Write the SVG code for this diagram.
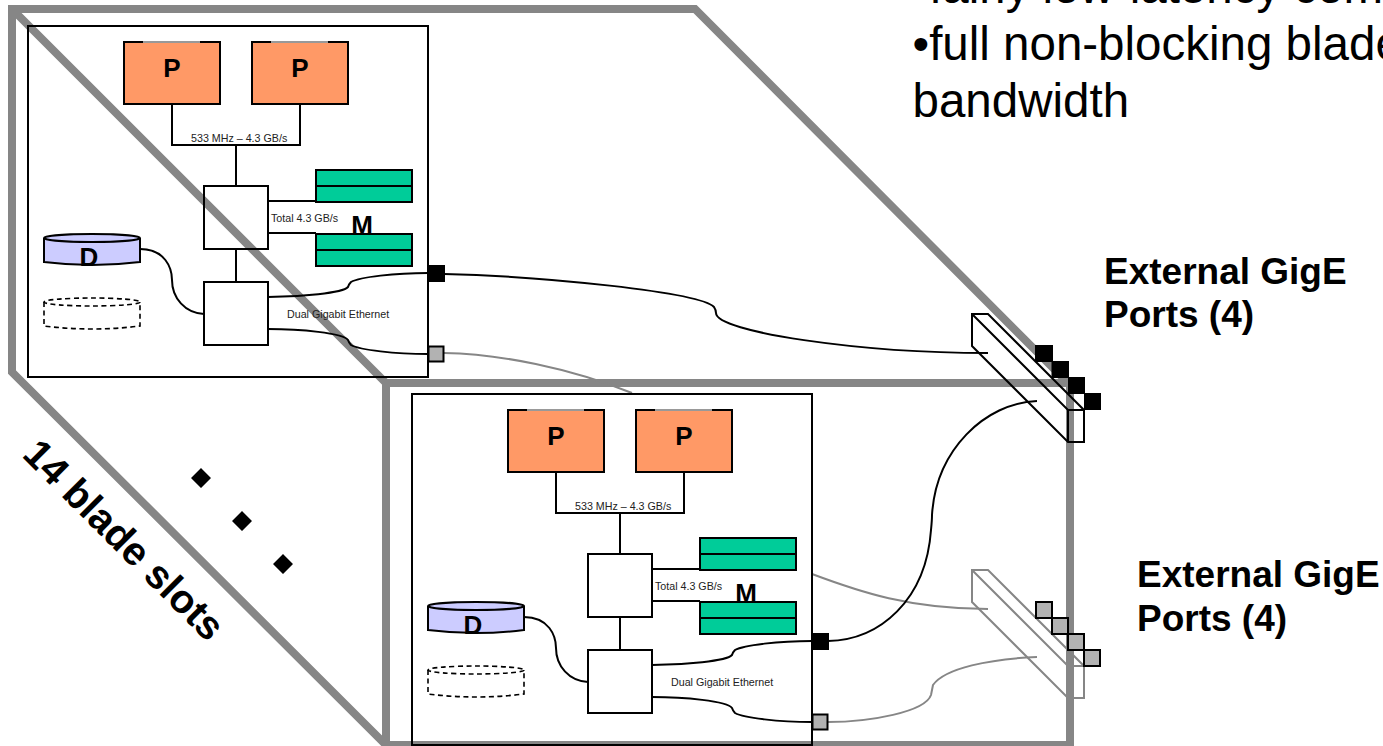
<svg xmlns="http://www.w3.org/2000/svg" width="1383" height="746" viewBox="0 0 1383 746">
<style>
text{font-family:"Liberation Sans",Arial,sans-serif;fill:#000}
.frame{fill:none;stroke:#868686;stroke-width:8}
.k{fill:none;stroke:#000;stroke-width:2}
.g{fill:none;stroke:#868686;stroke-width:2}
.cpu{fill:#ff9966;stroke:#000;stroke-width:2}
.lid{stroke:#999;stroke-width:2;fill:none}
.mem{fill:#00cc99;stroke:#000;stroke-width:2}
.disk{fill:#ccccff;stroke:#000;stroke-width:2}
.ghost{fill:none;stroke:#000;stroke-width:1.6;stroke-dasharray:5 3.5}
.big{font-size:26px;font-weight:700;text-anchor:middle}
.sm{font-size:10.7px;fill:#222}
.lab{font-size:37px;font-weight:700}
.slots{font-size:40px;font-weight:700}
.body{font-size:47.5px}
.pb{fill:#000;stroke:#000;stroke-width:1}
.pg{fill:#b2b2b2;stroke:#000;stroke-width:2}
</style>
<g id="chassis">
<path class="frame" d="M386 383H1068L695 9H12V372L386 745H1070V383M386 383V745M12 9L386 383"/>
</g>
<g id="connectors">
<path class="g" d="M444 353C500 354 570 368 632 393"/>
<path class="g" d="M812 574C860 592 910 609 988 609"/>
<path class="g" d="M828 722C870 722 925 712 931 695Q932 690 933 685C945 668 990 659 1037 657"/>
<path class="k" d="M444 274C540 276 700 292 714 307Q716 310 716 313C716 332 860 353 988 353"/>
<path class="k" d="M828 641C880 640 926 600 931 530Q932 520 932 515C936 450 985 403 1037 401"/>
<path class="k" d="M268 297C300 297 343 293 348 287Q349 284 351 282C360 277 395 273 428 273"/>
<path class="k" d="M268 329C300 329 343 333 348 340Q349 343 351 345C360 350 395 354 428 354"/>
<path class="k" d="M652 665C684 665 727 661 732 655Q733 652 735 650C744 645 779 641 812 641"/>
<path class="k" d="M652 697C684 697 727 701 732 708Q733 711 735 713C744 718 779 722 812 722"/>
</g>
<g id="blade-1">
<rect class="k" x="28" y="26" width="400" height="351"/>
<path class="k" d="M172 105V145H300V105M236 145V185M236 249V282M268 201H316M268 233H316"/>
<path class="k" d="M140 249C165 249 172 268 172 280C172 298 185 313 204 314"/>
<rect class="k" x="204" y="186" width="64" height="63"/>
<rect class="k" x="204" y="282" width="64" height="63"/>
</g>
<g id="blade-1-cpu-1"><rect class="cpu" x="124" y="42" width="96" height="62"/><path class="lid" d="M143 42H200"/><text class="big" x="172" y="77">P</text></g>
<g id="blade-1-cpu-2"><rect class="cpu" x="252" y="42" width="96" height="62"/><path class="lid" d="M271 42H328"/><text class="big" x="300" y="77">P</text></g>
<g id="blade-1-memory">
<rect class="mem" x="316" y="170" width="96" height="32"/><path class="k" d="M316 186H412"/>
<rect class="mem" x="316" y="234" width="96" height="32"/><path class="k" d="M316 250H412"/>
<text class="big" x="362" y="234">M</text>
</g>
<g id="blade-1-disk">
<path class="disk" d="M44 238V262Q92 268 140 262V238"/><ellipse class="disk" cx="92" cy="238" rx="48" ry="4"/>
<text class="big" x="89" y="266">D</text>
</g>
<g id="blade-1-disk-empty">
<path class="ghost" d="M44 302V326Q92 332 140 326V302"/><ellipse class="ghost" cx="92" cy="302" rx="48" ry="4"/>
</g>
<g id="blade-1-labels">
<text class="sm" x="191" y="142">533 MHz – 4.3 GB/s</text>
<text class="sm" x="271" y="222">Total 4.3 GB/s</text>
<text class="sm" x="287" y="318">Dual Gigabit Ethernet</text>
</g>
<g id="blade-1-port-a"><rect class="pb" x="428.500" y="265.500" width="16" height="16"/></g>
<g id="blade-1-port-b"><rect class="pg" x="428.500" y="346.500" width="15" height="15"/></g>

<g id="blade-2">
<rect class="k" x="412" y="394" width="400" height="351"/>
<path class="k" d="M556 473V513H684V473M620 513V553M620 617V650M652 569H700M652 601H700"/>
<path class="k" d="M524 617C549 617 556 636 556 648C556 666 569 681 588 682"/>
<rect class="k" x="588" y="554" width="64" height="63"/>
<rect class="k" x="588" y="650" width="64" height="63"/>
</g>
<g id="blade-2-cpu-1"><rect class="cpu" x="508" y="410" width="96" height="62"/><path class="lid" d="M527 410H584"/><text class="big" x="556" y="445">P</text></g>
<g id="blade-2-cpu-2"><rect class="cpu" x="636" y="410" width="96" height="62"/><path class="lid" d="M655 410H712"/><text class="big" x="684" y="445">P</text></g>
<g id="blade-2-memory">
<rect class="mem" x="700" y="538" width="96" height="32"/><path class="k" d="M700 554H796"/>
<rect class="mem" x="700" y="602" width="96" height="32"/><path class="k" d="M700 618H796"/>
<text class="big" x="746" y="602">M</text>
</g>
<g id="blade-2-disk">
<path class="disk" d="M428 606V630Q476 636 524 630V606"/><ellipse class="disk" cx="476" cy="606" rx="48" ry="4"/>
<text class="big" x="473" y="634">D</text>
</g>
<g id="blade-2-disk-empty">
<path class="ghost" d="M428 670V694Q476 700 524 694V670"/><ellipse class="ghost" cx="476" cy="670" rx="48" ry="4"/>
</g>
<g id="blade-2-labels">
<text class="sm" x="575" y="510">533 MHz – 4.3 GB/s</text>
<text class="sm" x="655" y="590">Total 4.3 GB/s</text>
<text class="sm" x="671" y="686">Dual Gigabit Ethernet</text>
</g>
<g id="blade-2-port-a"><rect class="pb" x="812.500" y="633.500" width="16" height="16"/></g>
<g id="blade-2-port-b"><rect class="pg" x="812.500" y="714.500" width="15" height="15"/></g>

<g id="switch-1">
<path class="k" d="M972 314H988L1084 410V442H1068L972 346ZM972 314L1068 410H1084M1068 410V442"/>
<rect class="pb" x="1035.500" y="345.500" width="17" height="16"/>
<rect class="pb" x="1052" y="361.500" width="16.500" height="16"/>
<rect class="pb" x="1068.500" y="377.500" width="16" height="16"/>
<rect class="pb" x="1084.500" y="393.500" width="16" height="16"/>
</g>
<g id="switch-2">
<path class="g" d="M972 570H988L1084 666V698H1068L972 602ZM972 570L1068 666H1084M1068 666V698"/>
<rect class="pg" x="1036" y="602" width="16" height="16"/>
<rect class="pg" x="1052" y="618" width="16" height="16"/>
<rect class="pg" x="1068" y="634" width="16" height="16"/>
<rect class="pg" x="1084" y="650" width="16" height="16"/>
</g>
<g id="ellipsis">
<path d="M201 468L211 478L201 488L191 478ZM242 511L252 521L242 531L232 521ZM283 554L293 564L283 574L273 564Z" fill="#000"/>
</g>
<g id="text-labels">
<text class="lab" x="1104" y="284">External GigE</text>
<text class="lab" x="1104" y="327">Ports (4)</text>
<text class="lab" x="1137" y="587">External GigE</text>
<text class="lab" x="1137" y="631">Ports (4)</text>
<text class="slots" transform="translate(21 456) rotate(45)">14 blade slots</text>
<text class="body" x="912.500" y="3">•fairly low-latency com</text>
<text class="body" x="912.500" y="60">•full non-blocking blade</text>
<text class="body" x="912.500" y="117">bandwidth</text>
</g>
</svg>
